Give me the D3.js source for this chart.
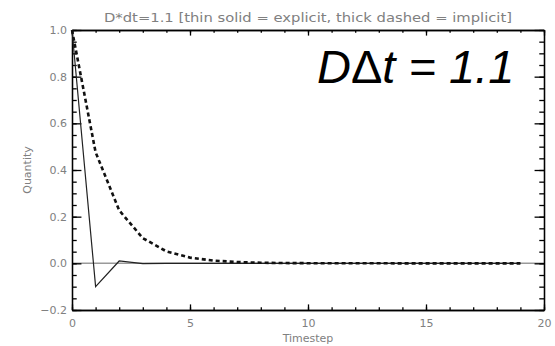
<!DOCTYPE html>
<html>
<head>
<meta charset="utf-8">
<script src="https://cdn.jsdelivr.net/npm/d3@7"></script>
<style>
  body { margin: 0; background: #fff; }
  text { font-family: 'DejaVu Sans', sans-serif; }
</style>
</head>
<body>
<div id="chart"></div>
<script>
// timesteps and the two solutions
const timesteps = [0, 1, 2, 3, 4, 5, 6, 7, 8, 9, 10, 11, 12, 13, 14, 15, 16, 17, 18, 19];
const explicitValues = [1.0, -0.1, 0.01, -0.001, 0.0001, 0, 0, 0, 0, 0, 0, 0, 0, 0, 0, 0, 0, 0, 0, 0];
const implicitValues = [1.0, 0.476, 0.227, 0.108, 0.0514, 0.0245, 0.0117, 0.0055, 0.0026, 0.0012,
  0.0006, 0.0003, 0.0001, 0.0001, 0, 0, 0, 0, 0, 0];
const xMajorTicks = [0, 5, 10, 15, 20];
const yMajorTicks = [-0.2, 0.0, 0.2, 0.4, 0.6, 0.8, 1.0];

const margin = { top: 30, right: 11, bottom: 36, left: 72 };
const width = 555 - margin.left - margin.right;
const height = 346 - margin.top - margin.bottom;
const grey = '#808080';

const svg = d3
  .select('#chart')
  .append('svg')
  .attr('width', 555)
  .attr('height', 346)
  .append('g')
  .attr('transform', 'translate(' + margin.left + ',' + margin.top + ')');

const xScale = d3.scaleLinear().domain([0, 20]).range([0, width]);
const yScale = d3.scaleLinear().domain([-0.2, 1.0]).range([height, 0]);

const xMinor = d3.range(0, 21, 1);
const yMinor = d3.range(-0.2, 1.0001, 0.05);
const xTickLen = height * 0.02;
const yTickLen = width * 0.02;

// zero line
svg
  .append('line')
  .attr('x1', 0)
  .attr('x2', width)
  .attr('y1', yScale(0))
  .attr('y2', yScale(0))
  .style('stroke', '#9a9a9a')
  .style('stroke-width', 1.5);

const styleAxis = (g) => {
  g.selectAll('path, line').style('stroke', '#000').style('stroke-width', 1.3);
  g.selectAll('text').style('fill', grey).style('font-size', '11px');
};

// bottom
svg.append('g').attr('transform', 'translate(0,' + height + ')')
  .call(d3.axisBottom(xScale).tickValues(xMinor).tickSize(-xTickLen / 2).tickSizeOuter(0).tickFormat(''))
  .call(styleAxis);
svg.append('g').attr('transform', 'translate(0,' + height + ')')
  .call(d3.axisBottom(xScale).tickValues(xMajorTicks).tickSize(-xTickLen).tickSizeOuter(0).tickPadding(9).tickFormat(d3.format('d')))
  .call(styleAxis);
// top
svg.append('g')
  .call(d3.axisTop(xScale).tickValues(xMinor).tickSize(-xTickLen / 2).tickSizeOuter(0).tickFormat(''))
  .call(styleAxis);
svg.append('g')
  .call(d3.axisTop(xScale).tickValues(xMajorTicks).tickSize(-xTickLen).tickSizeOuter(0).tickFormat(''))
  .call(styleAxis);
// left
svg.append('g')
  .call(d3.axisLeft(yScale).tickValues(yMinor).tickSize(-yTickLen / 2).tickSizeOuter(0).tickFormat(''))
  .call(styleAxis);
svg.append('g')
  .call(d3.axisLeft(yScale).tickValues(yMajorTicks).tickSize(-yTickLen).tickSizeOuter(0).tickPadding(5).tickFormat(d3.format('.1f')))
  .call(styleAxis);
// right
svg.append('g').attr('transform', 'translate(' + width + ',0)')
  .call(d3.axisRight(yScale).tickValues(yMinor).tickSize(-yTickLen / 2).tickSizeOuter(0).tickFormat(''))
  .call(styleAxis);
svg.append('g').attr('transform', 'translate(' + width + ',0)')
  .call(d3.axisRight(yScale).tickValues(yMajorTicks).tickSize(-yTickLen).tickSizeOuter(0).tickFormat(''))
  .call(styleAxis);

const line = d3
  .line()
  .x((d) => xScale(d[0]))
  .y((d) => yScale(d[1]));

// explicit: thin solid
svg
  .append('path')
  .datum(timesteps.map((t, i) => [t, explicitValues[i]]))
  .attr('d', line)
  .style('fill', 'none')
  .style('stroke', '#222')
  .style('stroke-width', 1.2);

// implicit: thick dashed
svg
  .append('path')
  .datum(timesteps.map((t, i) => [t, implicitValues[i]]))
  .attr('d', line)
  .style('fill', 'none')
  .style('stroke', '#111')
  .style('stroke-width', 2.6)
  .style('stroke-dasharray', '4,3');

// title
svg
  .append('text')
  .attr('x', width / 2)
  .attr('y', -8)
  .attr('textLength', 408)
  .attr('lengthAdjust', 'spacingAndGlyphs')
  .style('text-anchor', 'middle')
  .style('font-size', '12.5px')
  .style('fill', grey)
  .text('D*dt=1.1 [thin solid = explicit, thick dashed = implicit]');

svg
  .append('text')
  .attr('x', width / 2)
  .attr('y', height + 32)
  .style('text-anchor', 'middle')
  .style('font-size', '11px')
  .style('fill', grey)
  .text('Timestep');

svg
  .append('text')
  .attr('transform', 'rotate(-90)')
  .attr('x', -height / 2)
  .attr('y', -41)
  .style('text-anchor', 'middle')
  .style('font-size', '11px')
  .style('fill', grey)
  .text('Quantity');

// big annotation
const note = svg
  .append('text')
  .attr('x', 245)
  .attr('y', 53)
  .style('font-family', "'Liberation Sans', Arial, sans-serif")
  .style('font-style', 'italic')
  .style('font-size', '47px')
  .style('fill', '#000');
note.append('tspan').text('D');
note.append('tspan').style('font-style', 'normal').text('\u0394');
note.append('tspan').text('t = 1.1');
</script>
</body>
</html>
